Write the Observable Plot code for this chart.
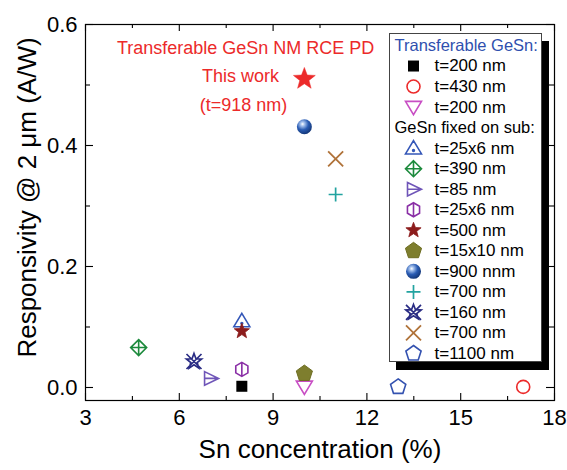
<!DOCTYPE html>
<html><head><meta charset="utf-8">
<script src="https://cdn.jsdelivr.net/npm/d3@7"></script>
<script src="https://cdn.jsdelivr.net/npm/@observablehq/plot@0.6"></script>
<style>
body{margin:0;background:#fff;}
#wrap{position:relative;width:567px;height:470px;font-family:"Liberation Sans",Arial,sans-serif;}
#legend{position:absolute;left:389px;top:33px;width:153px;height:329px;border:1px solid #444;box-shadow:7px 8px 0 #000;background:#fff;box-sizing:border-box;}
</style></head><body><div id="wrap"><div id="legend"></div></div>
<script>
// ---------------- data ----------------
const seriesIds = ["tr200","tr430","tr200b","fx25x6","fx390","fx85","fx25x6b","fx500","fx15x10","fx900","fx700","fx160","fx700b","fx1100"];
const seriesLabels = ["t=200 nm","t=430 nm","t=200 nm","t=25x6 nm","t=390 nm","t=85 nm","t=25x6 nm","t=500 nm","t=15x10 nm","t=900 nnm","t=700 nm","t=160 nm","t=700 nm","t=1100 nm"];
const seriesGroups = ["Transferable GeSn:","Transferable GeSn:","Transferable GeSn:","GeSn fixed on sub:","GeSn fixed on sub:","GeSn fixed on sub:","GeSn fixed on sub:","GeSn fixed on sub:","GeSn fixed on sub:","GeSn fixed on sub:","GeSn fixed on sub:","GeSn fixed on sub:","GeSn fixed on sub:","GeSn fixed on sub:"];
const snConc = [8, 17, 10, 8, 4.7, 7.0, 8, 8, 10, 10, 11, 6.47, 11, 13];
const responsivity = [0.002, 0.001, 0.001, 0.110, 0.066, 0.015, 0.030, 0.093, 0.023, 0.431, 0.319, 0.043, 0.378, 0.001];
const thisWorkSn = [10];
const thisWorkResp = [0.510];
const annotationTexts = ["Transferable GeSn NM RCE PD", "This work", "(t=918 nm)"];
const annotationSn = [8.12, 7.96, 8.05];
const annotationResp = [0.561, 0.514, 0.467];
const xTicks = [3, 6, 9, 12, 15, 18];
const xMinor = [4.5, 7.5, 10.5, 13.5, 16.5];
const yTicks = [0.0, 0.2, 0.4, 0.6];
const yMinor = [0.1, 0.3, 0.5];
const xTitle = "Sn concentration (%)";
const yTitle = "Responsivity @ 2 \u03bcm (A/W)";

// ---------------- symbols ----------------
function S(fn){return {draw(ctx,size){fn(ctx,Math.sqrt(size/Math.PI));}};}
function poly(c,pts){c.moveTo(pts[0][0],pts[0][1]);for(let i=1;i<pts.length;i++)c.lineTo(pts[i][0],pts[i][1]);c.closePath();}
function regular(n,r){return d3.range(n).map(i=>{const a=2*Math.PI*i/n;return [r*Math.sin(a),-r*Math.cos(a)];});}
function starPts(r){return d3.range(10).map(i=>{const a=Math.PI*i/5;const rr=i%2?r*0.42:r;return [rr*Math.sin(a),-rr*Math.cos(a)];});}
const SYM = {
  square: S((c,r)=>{c.rect(-r,-r,2*r,2*r);}),
  circle: S((c,r)=>{c.moveTo(r,0);c.arc(0,0,r,0,2*Math.PI);}),
  triDown: S((c,r)=>poly(c,[[-r,-r*0.72],[r,-r*0.72],[0,r*0.95]])),
  triUpDot: S((c,r)=>{poly(c,[[0,-r*0.95],[r,r*0.72],[-r,r*0.72]]);c.moveTo(0.9,r*0.3);c.arc(0,r*0.3,0.9,0,2*Math.PI);}),
  diamondPlus: S((c,r)=>{poly(c,[[0,-r],[r,0],[0,r],[-r,0]]);c.moveTo(0,-r);c.lineTo(0,r);c.moveTo(-r,0);c.lineTo(r,0);}),
  triRightLine: S((c,r)=>{poly(c,[[-r*0.75,-r*0.85],[r,0],[-r*0.75,r*0.85]]);c.moveTo(-r*0.75,0);c.lineTo(r,0);}),
  hexLine: S((c,r)=>{poly(c,regular(6,r));c.moveTo(0,-r);c.lineTo(0,r);}),
  star: S((c,r)=>poly(c,starPts(r))),
  pentagon: S((c,r)=>poly(c,regular(5,r))),
  plus: S((c,r)=>{c.moveTo(-r,0);c.lineTo(r,0);c.moveTo(0,-r);c.lineTo(0,r);}),
  times: S((c,r)=>{const k=r*0.75;c.moveTo(-k,-k);c.lineTo(k,k);c.moveTo(k,-k);c.lineTo(-k,k);}),
  starTimes: S((c,r)=>{poly(c,starPts(r*0.8));const k=r*0.75;c.moveTo(-k,-k);c.lineTo(k,k);c.moveTo(k,-k);c.lineTo(-k,k);})
};

// styles (per series, same order as seriesIds)
const seriesStyles = [
  {symbol:"square", r:5.5, fill:"#000", stroke:"none", sw:0},
  {symbol:"circle", r:6.5, fill:"none", stroke:"#ec2a2a", sw:1.6},
  {symbol:"triDown", r:8, fill:"none", stroke:"#c84ec4", sw:1.6},
  {symbol:"triUpDot", r:8, fill:"none", stroke:"#3457b8", sw:1.6},
  {symbol:"diamondPlus", r:8, fill:"none", stroke:"#1c8a3c", sw:1.6},
  {symbol:"triRightLine", r:8, fill:"none", stroke:"#6f55b8", sw:1.6},
  {symbol:"hexLine", r:7, fill:"none", stroke:"#8a2fa6", sw:1.6},
  {symbol:"star", r:8, fill:"#8c1c1c", stroke:"#8c1c1c", sw:0.8},
  {symbol:"pentagon", r:8.5, fill:"#7e7e2e", stroke:"#6e6e22", sw:1},
  {symbol:"sphere", r:7.5},
  {symbol:"plus", r:7, fill:"none", stroke:"#22a3a0", sw:1.7},
  {symbol:"starTimes", r:10, fill:"none", stroke:"#2a2c84", sw:1.7},
  {symbol:"times", r:10, fill:"none", stroke:"#b0733a", sw:1.8},
  {symbol:"pentagon", r:8, fill:"none", stroke:"#3452b0", sw:1.6}
];
const thisWorkStyle = {symbol:"star", r:11.5, fill:"#ec2a2a", stroke:"#ec2a2a", sw:0.5};

function dotMark(data, xAcc, yAcc, st, gradId, extra){
  if (st.symbol === "sphere") {
    return Plot.dot(data, {x:xAcc, y:yAcc, r:st.r, symbol:"circle", fill:`url(#${gradId})`, stroke:"none", ...extra});
  }
  return Plot.dot(data, {x:xAcc, y:yAcc, r:st.r, symbol:SYM[st.symbol], fill:st.fill, stroke:st.stroke, strokeWidth:st.sw, ...extra});
}

const gradDefs = (id)=>`<radialGradient id="${id}" cx="38%" cy="32%" r="70%">
<stop offset="0%" stop-color="#ffffff"/><stop offset="18%" stop-color="#a9c4ee"/>
<stop offset="55%" stop-color="#2b5db4"/><stop offset="100%" stop-color="#123576"/></radialGradient>`;

// ---------------- main plot ----------------
const W = 567, H = 470, mT = 24, mL = 85, mR = 13, mB = 70;
const innerW = W - mL - mR, innerH = H - mT - mB;
const font = '"Liberation Sans", Arial, sans-serif';

const marks = [];
marks.push(Plot.frame({stroke:"#000", strokeWidth:1.2}));
// inward ticks on all four sides
marks.push(Plot.ruleX(xTicks, {x:d=>d, insetTop: innerH-7, stroke:"#000", strokeWidth:1.1}));
marks.push(Plot.ruleX(xTicks, {x:d=>d, insetBottom: innerH-7, stroke:"#000", strokeWidth:1.1}));
marks.push(Plot.ruleX(xMinor, {x:d=>d, insetTop: innerH-4, stroke:"#000", strokeWidth:1.1}));
marks.push(Plot.ruleX(xMinor, {x:d=>d, insetBottom: innerH-4, stroke:"#000", strokeWidth:1.1}));
marks.push(Plot.ruleY(yTicks, {y:d=>d, insetRight: innerW-8, stroke:"#000", strokeWidth:1.1}));
marks.push(Plot.ruleY(yTicks, {y:d=>d, insetLeft: innerW-8, stroke:"#000", strokeWidth:1.1}));
marks.push(Plot.ruleY(yMinor, {y:d=>d, insetRight: innerW-5, stroke:"#000", strokeWidth:1.1}));
marks.push(Plot.ruleY(yMinor, {y:d=>d, insetLeft: innerW-5, stroke:"#000", strokeWidth:1.1}));
marks.push(Plot.axisX(xTicks, {tickSize:0, tickPadding:9, fontSize:22, label:null, tickFormat:d3.format("d")}));
marks.push(Plot.axisY(yTicks, {tickSize:0, tickPadding:8, fontSize:22, label:null, tickFormat:d3.format(".1f")}));
marks.push(Plot.text([xTitle], {frameAnchor:"bottom", dy:57, fontSize:26, fill:"#000", textAnchor:"middle"}));
marks.push(Plot.text([yTitle], {frameAnchor:"left", rotate:-90, dx:-58, dy:-15, fontSize:26, fill:"#000", textAnchor:"middle"}));
marks.push(Plot.text(annotationTexts.map((t,i)=>({t, x:annotationSn[i], y:annotationResp[i]})), {x:"x", y:"y", text:"t", fontSize:18, fill:"#ec2a2a"}));
seriesIds.forEach((id,i)=>{
  marks.push(dotMark([{x:snConc[i], y:responsivity[i]}], "x", "y", seriesStyles[i], "sphMain", {}));
});
marks.push(dotMark(thisWorkSn.map((x,i)=>({x, y:thisWorkResp[i]})), "x", "y", thisWorkStyle, "sphMain", {}));

const chart = Plot.plot({
  width: W, height: H, marginTop: mT, marginLeft: mL, marginRight: mR, marginBottom: mB,
  x: {domain:[3,18]},
  y: {domain:[-0.0215, 0.6]},
  style: {fontFamily: font, background:"#fff", overflow:"visible", color:"#000"},
  marks
});
d3.select(chart).insert("defs", ":first-child").html(gradDefs("sphMain"));
const wrap = document.getElementById("wrap");
wrap.insertBefore(chart, wrap.firstChild);

// ---------------- legend ----------------
const legendRows = [];
let row = 0;
let lastGroup = null;
seriesIds.forEach((id,i)=>{
  if (seriesGroups[i] !== lastGroup) { legendRows.push({row: row++, header: seriesGroups[i], idx: -1}); lastGroup = seriesGroups[i]; }
  legendRows.push({row: row++, header: null, idx: i, label: seriesLabels[i]});
});
const headerColors = {"Transferable GeSn:":"#2f4fae", "GeSn fixed on sub:":"#000"};
const lmarks = [];
legendRows.filter(d=>d.header).forEach(d=>{
  lmarks.push(Plot.text([d], {y:"row", text:"header", frameAnchor:"left", dx:4, textAnchor:"start", fontSize:16.5, fill:headerColors[d.header]}));
});
legendRows.filter(d=>!d.header).forEach(d=>{
  lmarks.push(dotMark([d], undefined, "row", seriesStyles[d.idx], "sphLeg", {frameAnchor:"left", dx:23}));
  lmarks.push(Plot.text([d], {y:"row", text:"label", frameAnchor:"left", dx:44, textAnchor:"start", fontSize:17, fill:"#000"}));
});
const legend = Plot.plot({
  width: 151, height: 327, margin: 0,
  y: {domain:[0, legendRows.length-1], range:[11, 319], axis:null},
  x: {axis:null},
  style: {fontFamily: font, background:"#fff", overflow:"visible"},
  marks: lmarks
});
d3.select(legend).insert("defs", ":first-child").html(gradDefs("sphLeg"));
document.getElementById("legend").appendChild(legend);
</script></body></html>
